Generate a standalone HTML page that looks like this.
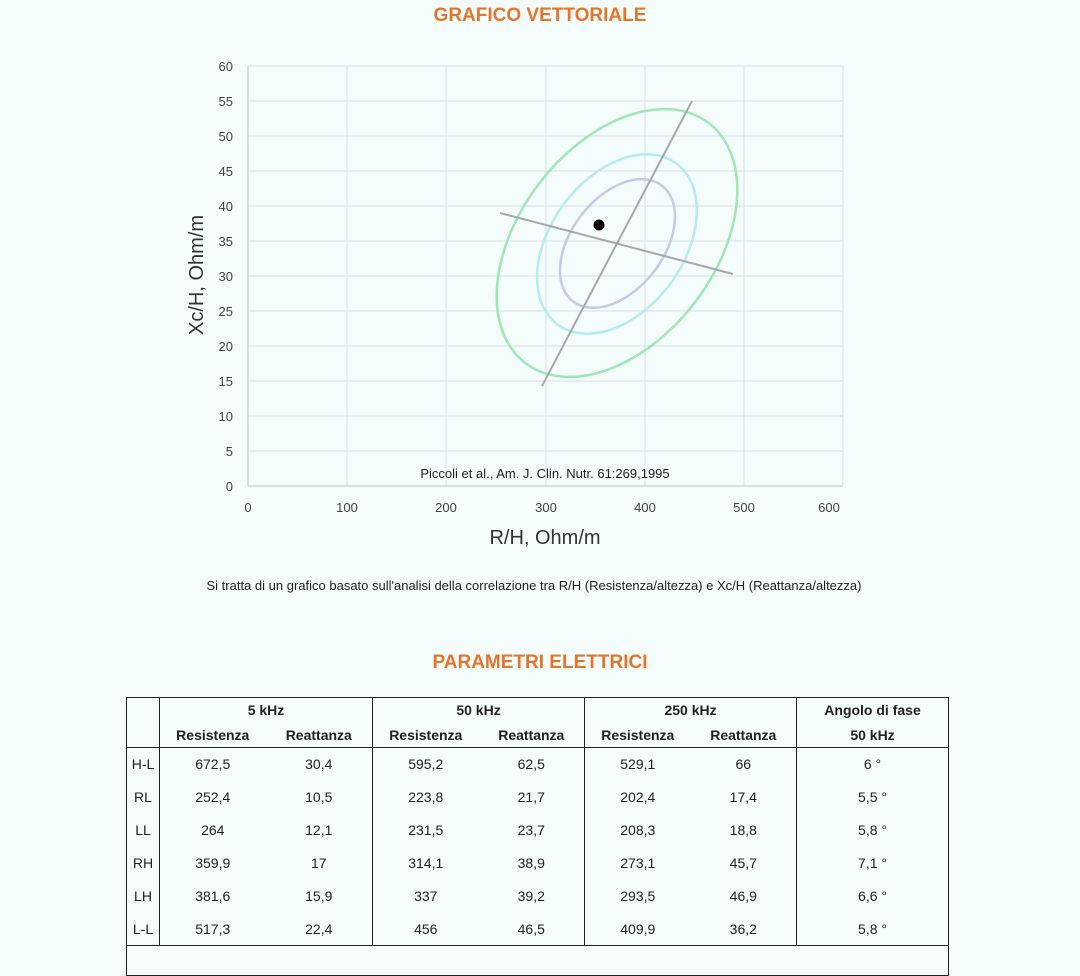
<!DOCTYPE html>
<html><head><meta charset="utf-8"><style>
html,body{margin:0;padding:0;background:#f4fcfc;width:1080px;height:959px;overflow:hidden;font-family:"Liberation Sans",sans-serif;}
.t{position:absolute;left:0;width:1080px;text-align:center;color:#e8742a;font-weight:bold;font-size:19px;}
table{position:absolute;left:126px;top:697px;width:823px;border-collapse:collapse;font-size:14px;color:#222;table-layout:fixed;}
td{text-align:center;padding:0;height:33px;line-height:14px;box-sizing:border-box;}
tr.h td{height:25px;}
</style></head><body>
<div class="t" style="top:5px">GRAFICO VETTORIALE</div>
<svg width="1080" height="600" style="position:absolute;left:0;top:0" font-family="Liberation Sans, sans-serif">
<g stroke="#dde6ea" stroke-width="1.2">
<line x1="347" y1="66" x2="347" y2="486"/><line x1="446" y1="66" x2="446" y2="486"/><line x1="546" y1="66" x2="546" y2="486"/><line x1="645" y1="66" x2="645" y2="486"/><line x1="744" y1="66" x2="744" y2="486"/><line x1="843" y1="66" x2="843" y2="486"/>
<line x1="248" y1="66" x2="843" y2="66"/><line x1="248" y1="101" x2="843" y2="101"/><line x1="248" y1="136" x2="843" y2="136"/><line x1="248" y1="171" x2="843" y2="171"/><line x1="248" y1="206" x2="843" y2="206"/><line x1="248" y1="241" x2="843" y2="241"/><line x1="248" y1="276" x2="843" y2="276"/><line x1="248" y1="311" x2="843" y2="311"/><line x1="248" y1="346" x2="843" y2="346"/><line x1="248" y1="381" x2="843" y2="381"/><line x1="248" y1="416" x2="843" y2="416"/><line x1="248" y1="451" x2="843" y2="451"/>
</g>
<line x1="248" y1="66" x2="248" y2="486" stroke="#cfd6da" stroke-width="1.5"/>
<line x1="248" y1="486" x2="843" y2="486" stroke="#cfd6da" stroke-width="1.5"/>
<g font-size="13" fill="#444" text-anchor="end">
<text x="233" y="71">60</text><text x="233" y="106">55</text><text x="233" y="141">50</text><text x="233" y="176">45</text><text x="233" y="211">40</text><text x="233" y="246">35</text><text x="233" y="281">30</text><text x="233" y="316">25</text><text x="233" y="351">20</text><text x="233" y="386">15</text><text x="233" y="421">10</text><text x="233" y="456">5</text><text x="233" y="491">0</text>
</g>
<g font-size="13" fill="#444" text-anchor="middle">
<text x="248" y="512">0</text><text x="347" y="512">100</text><text x="446" y="512">200</text><text x="546" y="512">300</text><text x="645" y="512">400</text><text x="744" y="512">500</text><text x="829" y="512">600</text>
</g>
<text x="545" y="544" font-size="20" fill="#333" text-anchor="middle">R/H, Ohm/m</text>
<text transform="translate(203,275) rotate(-90)" font-size="20" fill="#333" text-anchor="middle">Xc/H, Ohm/m</text>
<text x="545" y="478" font-size="13" fill="#222" text-anchor="middle">Piccoli et al., Am. J. Clin. Nutr. 61:269,1995</text>
<ellipse cx="617" cy="243" rx="98" ry="151" transform="rotate(37.4 617 243)" fill="none" stroke="#9ee8b4" stroke-width="2.5"/>
<ellipse cx="617" cy="244" rx="66.5" ry="100" transform="rotate(36.3 617 244)" fill="none" stroke="#b4ecf0" stroke-width="2.5"/>
<ellipse cx="617.5" cy="243.5" rx="46" ry="73" transform="rotate(37.5 617.5 243.5)" fill="none" stroke="#c2cce2" stroke-width="2.5"/>
<line x1="542" y1="386" x2="692" y2="101" stroke="#a8a8a8" stroke-width="2"/>
<line x1="500" y1="213" x2="733" y2="274" stroke="#a8a8a8" stroke-width="2"/>
<circle cx="599" cy="225" r="5.5" fill="#000"/>
<text x="534" y="590" font-size="13" fill="#222" text-anchor="middle">Si tratta di un grafico basato sull'analisi della correlazione tra R/H (Resistenza/altezza) e Xc/H (Reattanza/altezza)</text>
</svg>
<div class="t" style="top:652px">PARAMETRI ELETTRICI</div>
<table>
<colgroup><col style="width:33px"><col style="width:106px"><col style="width:107px"><col style="width:106px"><col style="width:106px"><col style="width:106px"><col style="width:106px"><col></colgroup>
<tr class="h" style="font-weight:bold"><td rowspan="2" style="border:1.5px solid #222"></td>
<td colspan="2" style="border:1.5px solid #222;border-bottom:none">5 kHz</td>
<td colspan="2" style="border:1.5px solid #222;border-bottom:none">50 kHz</td>
<td colspan="2" style="border:1.5px solid #222;border-bottom:none">250 kHz</td>
<td style="border:1.5px solid #222;border-bottom:none">Angolo di fase</td></tr>
<tr class="h" style="font-weight:bold"><td style="border-left:1.5px solid #222;border-bottom:1.5px solid #222">Resistenza</td><td style="border-bottom:1.5px solid #222">Reattanza</td><td style="border-left:1.5px solid #222;border-bottom:1.5px solid #222">Resistenza</td><td style="border-bottom:1.5px solid #222">Reattanza</td><td style="border-left:1.5px solid #222;border-bottom:1.5px solid #222">Resistenza</td><td style="border-bottom:1.5px solid #222">Reattanza</td><td style="border-left:1.5px solid #222;border-right:1.5px solid #222;border-bottom:1.5px solid #222">50 kHz</td></tr>
<tbody style="border:1.5px solid #222">
<tr><td style="border-right:1.5px solid #222">H-L</td><td>672,5</td><td>30,4</td><td style="border-left:1.5px solid #222">595,2</td><td>62,5</td><td style="border-left:1.5px solid #222">529,1</td><td>66</td><td style="border-left:1.5px solid #222">6 °</td></tr>
<tr><td style="border-right:1.5px solid #222">RL</td><td>252,4</td><td>10,5</td><td style="border-left:1.5px solid #222">223,8</td><td>21,7</td><td style="border-left:1.5px solid #222">202,4</td><td>17,4</td><td style="border-left:1.5px solid #222">5,5 °</td></tr>
<tr><td style="border-right:1.5px solid #222">LL</td><td>264</td><td>12,1</td><td style="border-left:1.5px solid #222">231,5</td><td>23,7</td><td style="border-left:1.5px solid #222">208,3</td><td>18,8</td><td style="border-left:1.5px solid #222">5,8 °</td></tr>
<tr><td style="border-right:1.5px solid #222">RH</td><td>359,9</td><td>17</td><td style="border-left:1.5px solid #222">314,1</td><td>38,9</td><td style="border-left:1.5px solid #222">273,1</td><td>45,7</td><td style="border-left:1.5px solid #222">7,1 °</td></tr>
<tr><td style="border-right:1.5px solid #222">LH</td><td>381,6</td><td>15,9</td><td style="border-left:1.5px solid #222">337</td><td>39,2</td><td style="border-left:1.5px solid #222">293,5</td><td>46,9</td><td style="border-left:1.5px solid #222">6,6 °</td></tr>
<tr><td style="border-right:1.5px solid #222">L-L</td><td>517,3</td><td>22,4</td><td style="border-left:1.5px solid #222">456</td><td>46,5</td><td style="border-left:1.5px solid #222">409,9</td><td>36,2</td><td style="border-left:1.5px solid #222">5,8 °</td></tr>
</tbody>
<tr><td colspan="8" style="border:1.5px solid #222;height:30px"></td></tr>
</table>
</body></html>
